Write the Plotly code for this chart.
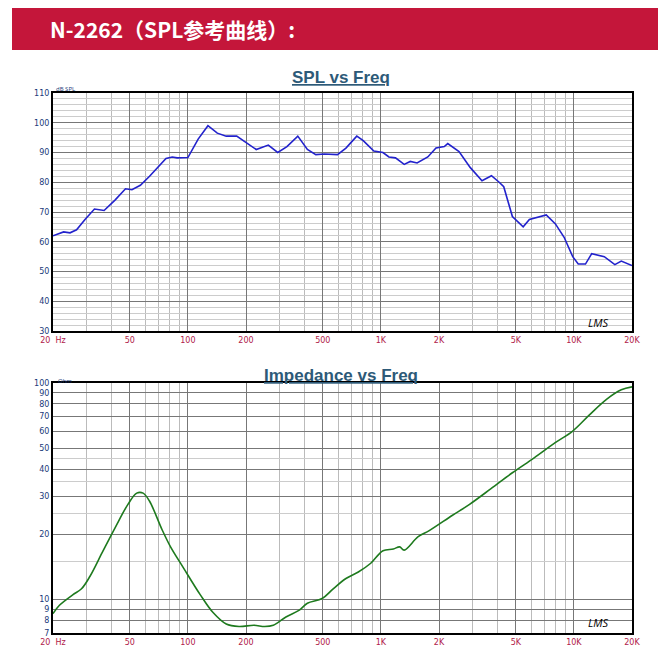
import plotly.graph_objects as go

W, H = 666, 657
OFF = 8  # page body margin in the browser

spl_freq = [20, 22.7, 24.5, 26.5, 29.3, 32.8, 36.8, 41.9, 47.5, 51.3, 56.7, 63.3, 77, 83, 88, 100,
            113, 127, 142, 158, 179, 204, 226, 261, 292, 326, 371, 416, 460, 509, 596, 659, 750,
            810, 919, 1025, 1100, 1190, 1320, 1420, 1540, 1750, 1930, 2130, 2220, 2540, 2900,
            3340, 3740, 4100, 4330, 4800, 5460, 5880, 6320, 7190, 8020, 8900, 9860, 10530,
            11480, 12370, 14370, 16300, 17600, 18500, 20000]
spl_db = [62, 63.3, 63, 64, 67.5, 71, 70.5, 74, 77.8, 77.5, 79, 82, 88, 88.5, 88.2, 88.3,
          94.5, 99, 96.5, 95.5, 95.5, 93, 91, 92.5, 90, 92, 95.5, 91, 89.3, 89.5, 89.3, 91.5, 95.5,
          94, 90.5, 90, 88.5, 88.2, 86, 87, 86.5, 88.5, 91.5, 92, 93, 90.3, 85,
          80.5, 82.2, 80, 78.5, 68.5, 65, 67.5, 68, 69, 66, 61.5, 55, 52.5,
          52.5, 56, 55, 52.3, 53.5, 53, 52]

imp_freq = [20, 21.6, 25.3, 28.1, 31.1, 36, 42, 48.9, 54.3, 58.6, 63.2, 73.5, 81.3, 94.8, 116,
            135, 158, 184, 220, 250, 277, 322, 376, 416, 496, 566, 659, 764, 886, 1025, 1160,
            1250, 1320, 1560, 1780, 2350, 2880, 3720, 4800, 6200, 8000, 9860, 12000, 14750,
            17600, 20000]
imp_ohm = [8.6, 9.4, 10.5, 11.2, 12.8, 16.5, 21.5, 27.5, 31, 31, 28.5, 21, 17.5, 14, 10.5,
           8.7, 7.7, 7.5, 7.6, 7.5, 7.6, 8.3, 8.9, 9.6, 10.1, 11.2, 12.5, 13.4, 14.7, 16.8, 17.1,
           17.5, 16.9, 19.5, 20.8, 24.5, 27.5, 32.5, 38.5, 45, 53, 60, 71, 84, 93, 96]

x_ticks = [20, 50, 100, 200, 500, 1000, 2000, 5000, 10000, 20000]
x_labels = ["20  Hz", "50", "100", "200", "500", "1K", "2K", "5K", "10K", "20K"]
spl_ticks = [30, 40, 50, 60, 70, 80, 90, 100, 110]
imp_ticks = [7, 8, 9, 10, 20, 30, 40, 50, 60, 70, 80, 90, 100]

x_minor = [m * d for d in [10, 100, 1000, 10000] for m in range(1, 10) if 20 <= m * d <= 20000]


def px(x):
    return (x - OFF) / W


def py(y):
    return 1 - (y - OFF) / H


fig = go.Figure()
fig.add_trace(go.Scatter(x=spl_freq, y=spl_db, mode="lines", line=dict(color="#2222cc", width=1.6),
                         xaxis="x", yaxis="y", showlegend=False))
fig.add_trace(go.Scatter(x=imp_freq, y=imp_ohm, mode="lines", line=dict(color="#1e7a1e", width=1.6, shape="spline"),
                         xaxis="x2", yaxis="y2", showlegend=False))

xdom = [px(53), px(632)]
tickfont_x = dict(size=8, color="#b0204a", family="DejaVu Sans")
tickfont_y = dict(size=8, color="#1a3a7a", family="DejaVu Sans")
xcommon = dict(type="log", range=[1.30103, 4.30103], tickvals=x_ticks, ticktext=x_labels,
               tickfont=tickfont_x, showgrid=True, gridcolor="#777", gridwidth=1.2,
               minor=dict(tickvals=x_minor, showgrid=True, gridcolor="#bbb", gridwidth=1),
               showline=True, linecolor="black", linewidth=2, mirror=True, zeroline=False,
               domain=xdom, automargin=False, ticklen=0)

fig.update_layout(
    width=W, height=H, margin=dict(l=0, r=0, t=0, b=0, autoexpand=False),
    paper_bgcolor="white", plot_bgcolor="white",
    xaxis=dict(anchor="y", **xcommon),
    yaxis=dict(domain=[py(331), py(93)], range=[30, 110], tickvals=spl_ticks,
               tickfont=tickfont_y, showgrid=True, gridcolor="#777", gridwidth=1.2,
               minor=dict(dtick=2, showgrid=True, gridcolor="#ccc", gridwidth=1),
               showline=True, linecolor="black", linewidth=2, mirror=True, zeroline=False,
               automargin=False, ticklen=0),
    xaxis2=dict(anchor="y2", **xcommon),
    yaxis2=dict(domain=[py(633), py(383)], type="log", range=[0.845098, 2],
                tickvals=imp_ticks, tickfont=tickfont_y, showgrid=True, gridcolor="#777",
                gridwidth=1.2, minor=dict(tickvals=[15, 25, 35, 45], showgrid=True, gridcolor="#ccc"),
                showline=True, linecolor="black", linewidth=2, mirror=True, zeroline=False,
                automargin=False, ticklen=0),
    shapes=[dict(type="rect", xref="paper", yref="paper", x0=px(12), x1=px(660),
                 y0=py(50), y1=py(8), fillcolor="#c4163a", line=dict(width=0), layer="below")],
)

ann = [
    dict(x=px(48), y=py(29), text="<b>N-2262（SPL参考曲线）:</b>", xanchor="left",
         font=dict(size=21, color="white", family="Noto Sans CJK SC")),
    dict(x=px(341), y=py(77), text="<b><u>SPL vs Freq</u></b>",
         font=dict(size=17, color="#2d5a78", family="Liberation Sans")),
    dict(x=px(341), y=py(375), text="<b><u>Impedance vs Freq</u></b>",
         font=dict(size=17, color="#2d5a78", family="Liberation Sans")),
    dict(x=px(54), y=py(89), text="dB SPL", xanchor="left",
         font=dict(size=6, color="#1a3a7a")),
    dict(x=px(56), y=py(381), text="Ohm", xanchor="left",
         font=dict(size=6, color="#1a3a7a")),
    dict(x=px(610), y=py(322), text="<i>LMS</i>", font=dict(size=11, color="black")),
    dict(x=px(610), y=py(622), text="<i>LMS</i>", font=dict(size=11, color="black")),
]
for a in ann:
    a.update(xref="paper", yref="paper", showarrow=False, yanchor="middle")
fig.update_layout(annotations=ann)

fig.write_html("out.html")
